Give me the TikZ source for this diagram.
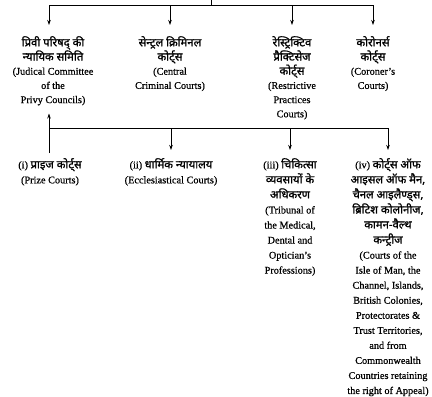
\documentclass[tikz,border=0pt]{standalone}
\usepackage{fontspec}
\setmainfont[FakeBold=0.6]{Liberation Serif}
\newfontfamily\hin[Script=Devanagari,Scale=1.1,FakeBold=1.2]{Noto Sans}
\usetikzlibrary{arrows.meta}
\begin{document}
\begin{tikzpicture}[x=1bp,y=-1bp,
  txt/.style={align=center, inner sep=0pt, anchor=north, font=\fontsize{10.3}{14.25}\selectfont},
  subtxt/.style={align=center, inner sep=0pt, anchor=north, font=\fontsize{10.3}{15.1}\selectfont},
  conn/.style={line width=0.8bp},
  arr/.style={conn,-{Stealth[length=5bp,width=3.5bp]}}]
\useasboundingbox (0,0) rectangle (432,397);

% top level
\node[txt] (n1) at (53,36) {{\hin प्रिवी परिषद् की}\\{\hin न्यायिक समिति}\\(Judical Committee\\of the\\Privy Councils)};
\node[txt] (n2) at (170,36) {{\hin सेन्ट्रल क्रिमिनल}\\{\hin कोर्ट्स}\\(Central\\Criminal Courts)};
\node[txt] (n3) at (292,36) {{\hin रेस्ट्रिक्टिव}\\{\hin प्रैक्टिसेज}\\{\hin कोर्ट्स}\\(Restrictive\\Practices\\Courts)};
\node[txt] (n4) at (373,36) {{\hin कोरोनर्स}\\{\hin कोर्ट्स}\\(Coroner's\\Courts)};

% sub level
\node[subtxt] (s1) at (50,158) {(i) {\hin प्राइज कोर्ट्स}\\(Prize Courts)};
\node[subtxt] (s2) at (171,158) {(ii) {\hin धार्मिक न्यायालय}\\(Ecclesiastical Courts)};
\node[subtxt] (s3) at (290,158) {(iii) {\hin चिकित्सा}\\{\hin व्यवसायों के}\\{\hin अधिकरण}\\(Tribunal of\\the Medical,\\Dental and\\Optician's\\Professions)};
\node[subtxt] (s4) at (388,158) {(iv) {\hin कोर्ट्स ऑफ}\\{\hin आइसल ऑफ मैन,}\\{\hin चैनल आइलैण्ड्स,}\\{\hin ब्रिटिश कोलोनीज,}\\{\hin कामन-वैल्थ}\\{\hin कन्ट्रीज}\\(Courts of the\\Isle of Man, the\\Channel, Islands,\\British Colonies,\\Protectorates \&\\Trust Territories,\\and from\\Commonwealth\\Countries retaining\\the right of Appeal)};

% top bus
\coordinate (root) at (211,0);
\coordinate (busL) at (49,5);
\coordinate (busR) at (373,5);
\coordinate (n1tip) at ([yshift=11bp]n1.north);
\coordinate (n1bot) at ([yshift=-8bp]n1.south);
\coordinate (s1top) at ([yshift=5bp]s1.north);
\draw[conn] (root) -- (root |- busL);
\draw[conn] (busL) -- (busR);
\draw[arr] (busL) -- (busL |- n1tip);
\draw[arr] (n2.north |- busL) -- ([yshift=11bp]n2.north);
\draw[arr] (n3.north |- busL) -- ([yshift=11bp]n3.north);
\draw[arr] (n4.north |- busL) -- ([yshift=11bp]n4.north);

% lower bus
\coordinate (bus2L) at (49,128);
\coordinate (bus2R) at (388,128);
\draw[conn] (bus2L) -- (bus2R);
\draw[arr] (bus2L |- s1top) -- (bus2L |- n1bot);
\draw[arr] (s2.north |- bus2L) -- ([yshift=8bp]s2.north);
\draw[arr] (s3.north |- bus2L) -- ([yshift=8bp]s3.north);
\draw[arr] (bus2R) -- ([yshift=8bp]s4.north);
\end{tikzpicture}
\end{document}
